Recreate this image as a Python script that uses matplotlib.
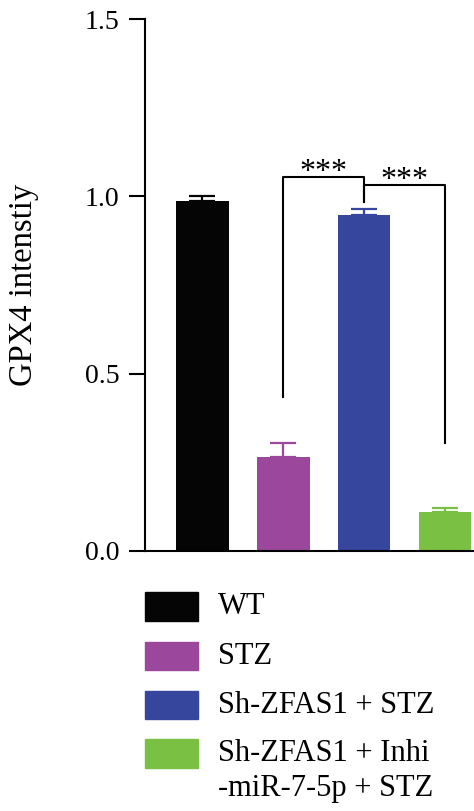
import numpy as np
import matplotlib
matplotlib.use('Agg')
import matplotlib.pyplot as plt
from matplotlib.patches import Rectangle

plt.rcParams['font.family'] = ['Liberation Serif', 'DejaVu Serif']

#### Data
groups = ['WT', 'STZ', 'Sh-ZFAS1 + STZ', 'Sh-ZFAS1 + Inhi\n-miR-7-5p + STZ']
means  = [0.988, 0.264, 0.949, 0.108]
errs   = [0.012, 0.039, 0.016, 0.013]
colors = ['#050505', '#9b489c', '#35469c', '#7ac143']
yticks = [0.0, 0.5, 1.0, 1.5]
ylabel = 'GPX4 intenstiy'

# significance brackets: (left bar, right bar, bracket height, left leg end, right leg end, text)
sig = [(1, 2, 1.054, 0.435, 0.985, '***'),
       (2, 3, 1.033, 0.985, 0.303, '***')]

#### Figure
W, H = 474, 811
fig = plt.figure(figsize=(W / 100, H / 100), dpi=100)

def fx(px):
    return px / W

def fy(py):
    return 1 - py / H

ax = fig.add_axes([fx(145), fy(550.7), fx(474) - fx(145), fy(19.3) - fy(550.7)])

x = np.arange(len(groups))
ax.bar(x, means, width=0.65, color=colors, zorder=2)
for xi, m, e, c in zip(x, means, errs, colors):
    ax.errorbar(xi, m, yerr=[[0], [e]], fmt='none', ecolor=c,
                elinewidth=1.6, capsize=9.5, capthick=1.6, zorder=1)

for a, b, h, la, lb, txt in sig:
    ax.plot([a, a, b, b], [la, h, h, lb], color='black', lw=1.5, clip_on=False)
    ax.text((a + b) / 2, h - 0.008, txt, ha='center', va='baseline',
            fontsize=23, clip_on=False)

ax.set_xlim(-0.71, 3.36)
ax.set_ylim(0, 1.5)
ax.set_yticks(yticks)
ax.set_yticklabels([f'{t:.1f}' for t in yticks])
ax.set_xticks([])
for s in ['top', 'right']:
    ax.spines[s].set_visible(False)
ax.spines['left'].set_linewidth(1.5)
ax.spines['bottom'].set_linewidth(1.5)
ax.tick_params(axis='y', length=11.5, width=1.5, pad=7, labelsize=20)
ax.set_ylabel(ylabel, fontsize=23.5, va='center')
ax.yaxis.set_label_coords((24 - 145) / (474 - 145), 0.5)

#### Legend (drawn by hand so the two-line entry lines up like the original)
row_top = [592.3, 641.7, 690.7, 739.0]
for top, lab, c in zip(row_top, groups, colors):
    fig.add_artist(Rectangle((fx(145), fy(top + 28.5)), fx(198) - fx(145), fy(top) - fy(top + 28.5),
                             transform=fig.transFigure, color=c))
    fig.text(fx(218), fy(top + 22), lab.split('\n')[0], fontsize=22, va='baseline', ha='left')
    if '\n' in lab:
        fig.text(fx(218), fy(top + 22 + 35), lab.split('\n')[1], fontsize=22, va='baseline', ha='left')

fig.savefig('out.png', dpi=100)
